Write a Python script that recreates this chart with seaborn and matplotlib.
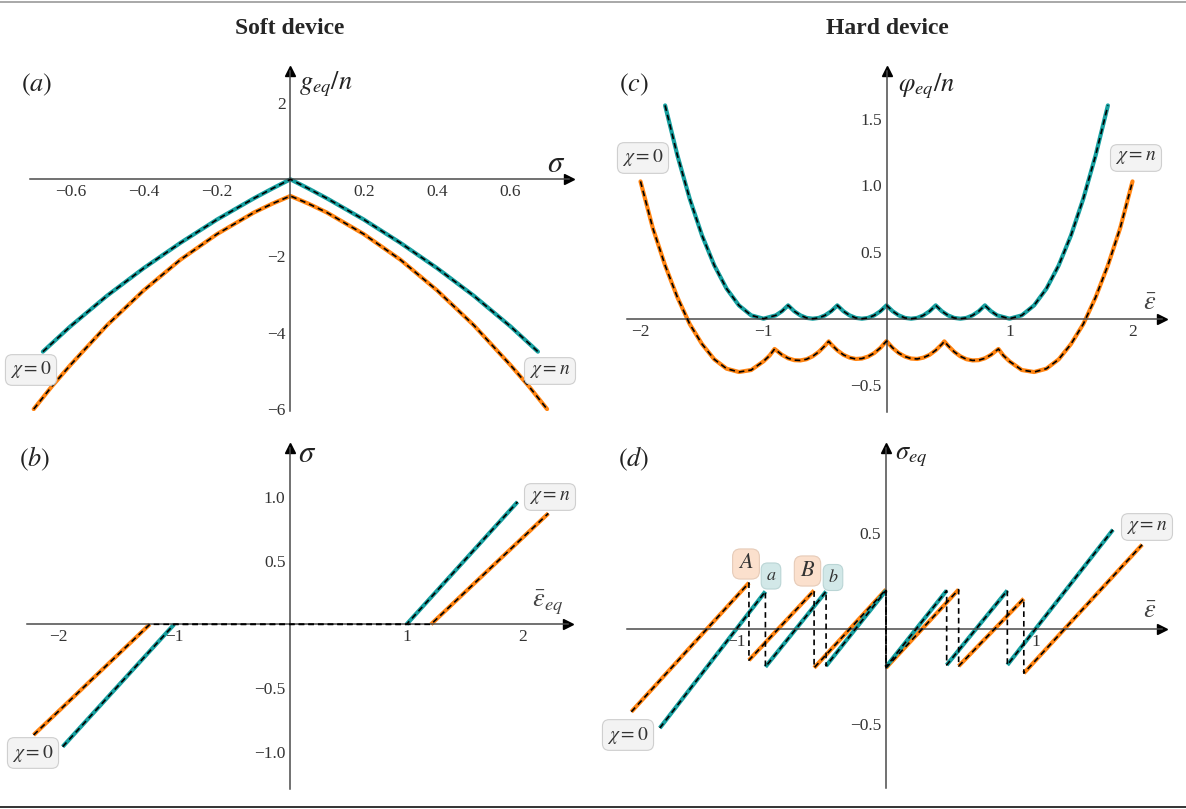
import numpy as np
import pandas as pd
import matplotlib
matplotlib.use("Agg")
import matplotlib.pyplot as plt
from matplotlib.lines import Line2D
from matplotlib.ticker import FixedLocator
import seaborn as sns

# ---- panel (a): soft device, g_eq/n vs sigma
a_sigma_teal = [-0.675, -0.6, -0.5, -0.4, -0.3, -0.2, -0.1, -0.05, 0.0, 0.05, 0.1, 0.2, 0.3, 0.4, 0.5, 0.6, 0.675]
a_g_teal = [-4.50, -3.84, -3.04, -2.32, -1.66, -1.05, -0.50, -0.245, 0.0, -0.245, -0.50, -1.05, -1.66, -2.32, -3.04, -3.84, -4.50]
a_sigma_orange = [-0.70, -0.65, -0.6, -0.5, -0.4, -0.3, -0.2, -0.1, -0.05, 0.0, 0.05, 0.1, 0.2, 0.3, 0.4, 0.5, 0.6, 0.65, 0.70]
a_g_orange = [-6.0, -5.4, -4.85, -3.81, -2.90, -2.10, -1.43, -0.87, -0.64, -0.435, -0.64, -0.87, -1.43, -2.10, -2.90, -3.81, -4.85, -5.4, -6.0]

# ---- panel (b): soft device, sigma vs eps_eq
b_eps_teal = [-1.96, -1.0, 1.0, 1.955]
b_sig_teal = [-0.96, 0.0, 0.0, 0.96]
b_eps_orange = [-2.21, -1.21, 1.21, 2.22]
b_sig_orange = [-0.868, 0.0, 0.0, 0.87]

# ---- panel (c): hard device, phi_eq/n vs eps
c_eps_teal = [-1.8, -1.7, -1.6, -1.5, -1.4, -1.3, -1.2, -1.1, -1.0, -0.9, -0.85, -0.8,
              -0.75, -0.7, -0.65, -0.6, -0.55, -0.5, -0.45, -0.4, -0.35, -0.3, -0.25, -0.2,
              -0.15, -0.1, -0.05, 0.0, 0.05, 0.1, 0.15, 0.2, 0.25, 0.3, 0.35, 0.4,
              0.45, 0.5, 0.55, 0.6, 0.65, 0.7, 0.75, 0.8, 0.85, 0.9, 1.0, 1.1,
              1.2, 1.3, 1.4, 1.5, 1.6, 1.7, 1.8]
c_phi_teal = [1.6, 1.225, 0.9, 0.625, 0.4, 0.225, 0.1, 0.025, 0.0, 0.025, 0.056, 0.1,
              0.056, 0.025, 0.006, 0.0, 0.006, 0.025, 0.056, 0.1, 0.056, 0.025, 0.006, 0.0,
              0.006, 0.025, 0.056, 0.1, 0.056, 0.025, 0.006, 0.0, 0.006, 0.025, 0.056, 0.1,
              0.056, 0.025, 0.006, 0.0, 0.006, 0.025, 0.056, 0.1, 0.056, 0.025, 0.0, 0.025,
              0.1, 0.225, 0.4, 0.625, 0.9, 1.225, 1.6]
c_eps_orange = [-2.0, -1.9, -1.8, -1.7, -1.6, -1.5, -1.4, -1.3, -1.2, -1.1, -1.0, -0.95, -0.91,
                -0.85, -0.8, -0.75, -0.7, -0.65, -0.6, -0.55, -0.5, -0.47,
                -0.45, -0.4, -0.35, -0.3, -0.25, -0.2, -0.15, -0.1, -0.05, 0.0,
                0.05, 0.1, 0.15, 0.2, 0.25, 0.3, 0.35, 0.4, 0.45, 0.47,
                0.5, 0.55, 0.6, 0.65, 0.7, 0.75, 0.8, 0.85, 0.91,
                0.95, 1.0, 1.1, 1.2, 1.3, 1.4, 1.5, 1.6, 1.7, 1.8, 1.9, 2.0]
c_phi_orange = [1.03, 0.68, 0.40, 0.16, -0.04, -0.19, -0.305, -0.375, -0.40, -0.385, -0.32, -0.276, -0.227,
                -0.271, -0.297, -0.311, -0.313, -0.304, -0.282, -0.248, -0.202, -0.17,
                -0.192, -0.237, -0.271, -0.292, -0.302, -0.299, -0.284, -0.258, -0.219, -0.168,
                -0.219, -0.258, -0.284, -0.299, -0.302, -0.292, -0.271, -0.237, -0.192, -0.17,
                -0.202, -0.248, -0.282, -0.304, -0.313, -0.311, -0.297, -0.271, -0.227,
                -0.276, -0.32, -0.385, -0.40, -0.375, -0.305, -0.19, -0.04, 0.16, 0.40, 0.68, 1.03]

# ---- panel (d): hard device, sigma_eq vs eps (pairs = branch start/end)
d_eps_teal = [-1.51, -0.805, -0.805, -0.40, -0.40, 0.0, 0.0, 0.405, 0.405, 0.81, 0.81, 1.515]
d_sig_teal = [-0.52, 0.195, -0.20, 0.195, -0.195, 0.20, -0.20, 0.20, -0.19, 0.20, -0.19, 0.518]
d_eps_orange = [-1.70, -0.915, -0.915, -0.48, -0.48, 0.0, 0.0, 0.485, 0.485, 0.92, 0.92, 1.71]
d_sig_orange = [-0.435, 0.24, -0.165, 0.20, -0.205, 0.205, -0.205, 0.205, -0.196, 0.157, -0.233, 0.44]

sns.set_style("white")
plt.rcParams['font.family'] = ['Liberation Serif', 'DejaVu Serif']
plt.rcParams['mathtext.fontset'] = 'stix'

W, H = 1186, 809
fig = plt.figure(figsize=(W / 100, H / 100), dpi=100)

TEAL = '#169f9f'
ORANGE = '#ff8412'
AXC = '#4a4a4a'
DASH = (0, (3.4, 2.4))


def px(x, y):
    return x / W, 1 - y / H


def make_axes(ox, oy, sx, sy, xlim, ylim):
    left = ox + xlim[0] * sx
    right = ox + xlim[1] * sx
    top = oy - ylim[1] * sy
    bottom = oy - ylim[0] * sy
    ax = fig.add_axes([left / W, 1 - bottom / H, (right - left) / W, (bottom - top) / H])
    ax.set_xlim(xlim)
    ax.set_ylim(ylim)
    ax.patch.set_alpha(0)
    for s in ['top', 'right']:
        ax.spines[s].set_visible(False)
    for s in ['left', 'bottom']:
        ax.spines[s].set_position(('data', 0))
        ax.spines[s].set_color(AXC)
        ax.spines[s].set_linewidth(1.1)
    ax.plot(1, 0, '>', color='black', ms=7, transform=ax.get_yaxis_transform(), clip_on=False)
    ax.plot(0, 1, '^', color='black', ms=7, transform=ax.get_xaxis_transform(), clip_on=False)
    ax.tick_params(which='both', direction='in', colors=AXC, labelcolor='#333333',
                   labelsize=12.5, pad=3.5)
    ax.tick_params(which='major', length=3.2, width=0.8)
    ax.tick_params(which='minor', length=1.8, width=0.6)
    ax.set_xlabel('')
    ax.set_ylabel('')
    return ax


def set_ticks(ax, xmaj, xlab, xmin, ymaj, ylab, ymin):
    ax.set_xticks(xmaj)
    ax.set_xticklabels(xlab)
    ax.set_yticks(ymaj)
    ax.set_yticklabels(ylab)
    ax.xaxis.set_minor_locator(FixedLocator(xmin))
    ax.yaxis.set_minor_locator(FixedLocator(ymin))


def curve(ax, x, y, color, paired=False):
    df = pd.DataFrame({'x': x, 'y': y})
    if paired:
        df['seg'] = np.repeat(np.arange(len(x) // 2), 2)
        sns.lineplot(data=df, x='x', y='y', units='seg', estimator=None, sort=False,
                     color=color, lw=3.0, ax=ax, zorder=2, solid_capstyle='butt')
    else:
        sns.lineplot(data=df, x='x', y='y', estimator=None, sort=False,
                     color=color, lw=3.0, ax=ax, zorder=2)
    sns.lineplot(data=df[['x', 'y']], x='x', y='y', estimator=None, sort=False,
                 color='black', lw=1.2, linestyle=DASH, ax=ax, zorder=3)
    ax.set_xlabel('')
    ax.set_ylabel('')


def tag(x, y, s, fc='#f3f3f3', ec='#cfcfcf', size=14):
    fig.text(*px(x, y), s, ha='center', va='center', fontsize=size, color='#333333',
             bbox=dict(boxstyle='round,pad=0.25,rounding_size=0.35', fc=fc, ec=ec, lw=0.8))


# (a)
ax_a = make_axes(290.4, 179.3, 366.7, 38.3, (-0.71, 0.76), (-6.05, 2.82))
set_ticks(ax_a, [-0.6, -0.4, -0.2, 0.2, 0.4, 0.6], ['−0.6', '−0.4', '−0.2', '0.2', '0.4', '0.6'],
          np.arange(-0.7, 0.76, 0.05), [2, -2, -4, -6], ['2', '−2', '−4', '−6'],
          np.arange(-6, 2.8, 0.5))
curve(ax_a, a_sigma_orange, a_g_orange, ORANGE)
curve(ax_a, a_sigma_teal, a_g_teal, TEAL)

# (b)
ax_b = make_axes(290.4, 624.3, 116.2, 127.5, (-2.27, 2.39), (-1.29, 1.38))
set_ticks(ax_b, [-2, -1, 1, 2], ['−2', '−1', '1', '2'], np.arange(-2.2, 2.39, 0.2),
          [1.0, 0.5, -0.5, -1.0], ['1.0', '0.5', '−0.5', '−1.0'], np.arange(-1.2, 1.38, 0.1))
curve(ax_b, b_eps_orange, b_sig_orange, ORANGE, paired=True)
curve(ax_b, b_eps_teal, b_sig_teal, TEAL, paired=True)

# (c)
ax_c = make_axes(886.5, 318.7, 123.0, 133.3, (-2.11, 2.24), (-0.70, 1.86))
set_ticks(ax_c, [-2, -1, 1, 2], ['−2', '−1', '1', '2'], np.arange(-2.0, 2.24, 0.2),
          [1.5, 1.0, 0.5, -0.5], ['1.5', '1.0', '0.5', '−0.5'], np.arange(-0.6, 1.86, 0.1))
curve(ax_c, c_eps_orange, c_phi_orange, ORANGE)
curve(ax_c, c_eps_teal, c_phi_teal, TEAL)

# (d)
ax_d = make_axes(886.0, 628.7, 149.8, 191.0, (-1.73, 1.84), (-0.835, 0.945))
set_ticks(ax_d, [-1, 1], ['−1', '1'], np.arange(-1.6, 1.84, 0.2),
          [0.5, -0.5], ['0.5', '−0.5'], np.arange(-0.8, 0.945, 0.1))
curve(ax_d, d_eps_orange, d_sig_orange, ORANGE, paired=True)
curve(ax_d, d_eps_teal, d_sig_teal, TEAL, paired=True)

# headers and frame lines
fig.text(*px(290, 29), 'Soft device', ha='center', va='center', fontsize=17, fontweight='bold')
fig.text(*px(887, 29), 'Hard device', ha='center', va='center', fontsize=17, fontweight='bold')
fig.add_artist(Line2D([0, 1], [1 - 1.5 / H, 1 - 1.5 / H], color='#999999', lw=1.2))
fig.add_artist(Line2D([0, 1], [1 - 806.5 / H, 1 - 806.5 / H], color='#333333', lw=1.4))

# panel letters
for (x, y, s) in [(37, 85, '$(a)$'), (634, 85, '$(c)$'), (35, 459, '$(b)$'), (634, 459, '$(d)$')]:
    fig.text(*px(x, y), s, ha='center', va='center', fontsize=19, color='#222222')

# axis labels
fig.text(*px(299, 84), r'$g_{eq}/n$', ha='left', va='center', fontsize=19, color='#222222')
fig.text(*px(556, 164), r'$\sigma$', ha='center', va='center', fontsize=22, color='#222222')
fig.text(*px(307, 455), r'$\sigma$', ha='center', va='center', fontsize=22, color='#222222')
fig.text(*px(548, 602), r'$\bar{\varepsilon}_{eq}$', ha='center', va='center', fontsize=19, color='#444444')
fig.text(*px(898, 86), r'$\varphi_{eq}/n$', ha='left', va='center', fontsize=19, color='#222222')
fig.text(*px(1150, 304), r'$\bar{\varepsilon}$', ha='center', va='center', fontsize=19, color='#444444')
fig.text(*px(895, 457), r'$\sigma_{eq}$', ha='left', va='center', fontsize=19, color='#222222')
fig.text(*px(1150, 612), r'$\bar{\varepsilon}$', ha='center', va='center', fontsize=19, color='#444444')

# chi labels
tag(31, 370, r'$\chi = 0$')
tag(550, 371, r'$\chi = n$')
tag(33, 753, r'$\chi = 0$')
tag(550, 497, r'$\chi = n$')
tag(643, 158, r'$\chi = 0$')
tag(1136, 158, r'$\chi = n$')
tag(628, 735, r'$\chi = 0$')
tag(1147, 527, r'$\chi = n$')

# A, a, B, b markers
tag(746, 564, r'$A$', fc='#fbe0cd', ec='#e6cbb8', size=16)
tag(771, 576, r'$a$', fc='#d2e8e8', ec='#bad5d5', size=13)
tag(807.5, 571, r'$B$', fc='#fbe0cd', ec='#e6cbb8', size=16)
tag(833, 577.5, r'$b$', fc='#d2e8e8', ec='#bad5d5', size=13)

fig.savefig('out.png', dpi=100)
